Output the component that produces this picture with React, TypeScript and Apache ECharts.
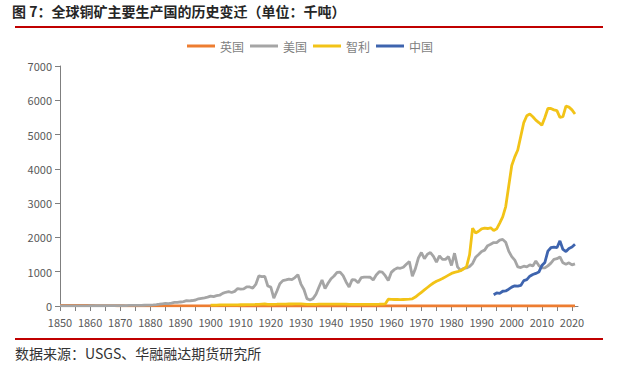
import React, { useEffect, useRef } from "react";
import * as echarts from "echarts";

const titleText = "图 7：全球铜矿主要生产国的历史变迁（单位：千吨）";
const sourceText = "数据来源：USGS、华融融达期货研究所";
const seriesNames = ["英国", "美国", "智利", "中国"];

const firstYear = 1850;
const lastYear = 2022;

const ukStart = 1850;
const ukValues = [
  15, 15, 16, 16, 15, 14, 14, 14, 14, 14,
  15, 14, 13, 13, 12, 12, 11, 10, 9, 8,
  7, 7, 6, 6, 5, 5, 5, 4, 4, 4,
  4, 3, 3, 3, 3, 3, 2, 2, 2, 1,
  1, 1, 1, 1, 1, 1, 1, 1, 1, 1,
  1, 1, 1, 1, 1, 1, 1, 1, 1, 1,
  0, 0, 0, 0, 0, 0, 0, 0, 0, 0,
  0, 0, 0, 0, 0, 0, 0, 0, 0, 0,
  0, 0, 0, 0, 0, 0, 0, 0, 0, 0,
  0, 0, 0, 0, 0, 0, 0, 0, 0, 0,
  0, 0, 0, 0, 0, 0, 0, 0, 0, 0,
  0, 0, 0, 0, 0, 0, 0, 0, 0, 0,
  0, 0, 0, 0, 0, 0, 0, 0, 0, 0,
  0, 0, 0, 0, 0, 0, 0, 0, 0, 0,
  0, 0, 0, 0, 0, 0, 0, 0, 0, 0,
  0, 0, 0, 0, 0, 0, 0, 0, 0, 0,
  0, 0, 0, 0, 0, 0, 0, 0, 0, 0,
  0, 0,
];

const usStart = 1850;
const usValues = [
  1, 1, 1, 2, 2, 3, 4, 5, 5, 6,
  7, 7, 9, 8, 8, 8, 9, 10, 12, 13,
  13, 13, 13, 16, 18, 18, 19, 21, 22, 23,
  27, 32, 41, 52, 65, 75, 72, 82, 103, 104,
  117, 128, 155, 150, 160, 175, 210, 225, 240, 260,
  290, 275, 300, 315, 370, 400, 417, 394, 427, 509,
  493, 497, 560, 555, 522, 628, 876, 854, 864, 583,
  550, 230, 430, 650, 740, 760, 786, 768, 830, 910,
  640, 480, 215, 175, 215, 345, 555, 760, 508, 663,
  797, 875, 982, 989, 885, 701, 552, 769, 759, 680,
  826, 842, 840, 838, 756, 906, 1000, 987, 885, 745,
  980, 1060, 1110, 1100, 1130, 1220, 1300, 866, 1090, 1400,
  1560, 1380, 1510, 1560, 1450, 1280, 1460, 1360, 1360, 1440,
  1180, 1540, 1140, 1040, 1100, 1110, 1150, 1240, 1420, 1500,
  1590, 1630, 1760, 1800, 1850, 1850, 1920, 1940, 1860, 1600,
  1440, 1340, 1140, 1120, 1160, 1140, 1200, 1170, 1310, 1180,
  1110, 1110, 1170, 1250, 1360, 1380, 1430, 1260, 1220, 1260,
  1200, 1230,
];

const chileStart = 1900;
const chileValues = [
  25, 28, 28, 30, 30, 30, 32, 33, 35, 35,
  36, 36, 38, 40, 42, 45, 50, 55, 58, 50,
  50, 50, 52, 55, 55, 55, 58, 58, 60, 60,
  60, 55, 45, 45, 50, 50, 55, 55, 55, 55,
  55, 55, 55, 55, 55, 55, 50, 50, 50, 50,
  50, 50, 50, 50, 50, 50, 52, 55, 60, 200,
  195, 190, 190, 185, 190, 195, 200, 210, 260, 330,
  400, 470, 540, 610, 670, 720, 760, 800, 850, 900,
  950, 980, 1000, 1030, 1080, 1150, 1500, 2270, 2130, 2180,
  2250, 2270, 2260, 2280, 2200, 2250, 2420, 2600, 2900, 3500,
  4100, 4350, 4550, 4950, 5350, 5550, 5600, 5520, 5420, 5350,
  5270, 5500, 5760, 5760, 5720, 5700, 5500, 5520, 5830, 5800,
  5720, 5600,
];

const chinaStart = 1994;
const chinaValues = [
  330, 380, 370, 430, 440, 490, 550, 590, 580, 600,
  740, 770, 870, 920, 950, 990, 1180, 1270, 1600, 1700,
  1720, 1700, 1900, 1650, 1590, 1680, 1720, 1800,
];

const colors = ["#ED7D31", "#A5A5A5", "#F2C317", "#3E64AE"];

const years: string[] = [];
for (let y = firstYear; y <= lastYear; y++) years.push(String(y));

function align(start: number, values: number[]) {
  return years.map((ys) => {
    const i = Number(ys) - start;
    return i >= 0 && i < values.length ? values[i] : null;
  });
}

export default function App() {
  const ref = useRef<HTMLDivElement>(null);
  useEffect(() => {
    if (!ref.current) return;
    const chart = echarts.init(ref.current, null, { renderer: "svg" });
    const font = "'Noto Sans CJK SC', 'Noto Sans', sans-serif";
    const allData = [
      align(ukStart, ukValues),
      align(usStart, usValues),
      align(chileStart, chileValues),
      align(chinaStart, chinaValues),
    ];
    chart.setOption({
      animation: false,
      backgroundColor: "#ffffff",
      textStyle: { fontFamily: font },
      color: colors,
      graphic: [
        {
          type: "text",
          left: 12,
          top: 4,
          style: { text: titleText, fontSize: 14, fontWeight: "bold", fill: "#262626", fontFamily: font },
        },
        {
          type: "rect",
          shape: { x: 15, y: 26, width: 588, height: 2 },
          style: { fill: "#C00000" },
        },
        {
          type: "rect",
          shape: { x: 15, y: 338, width: 588, height: 2 },
          style: { fill: "#C00000" },
        },
        {
          type: "text",
          left: 15,
          top: 346,
          style: { text: sourceText, fontSize: 14, fill: "#333333", fontFamily: font },
        },
      ],
      legend: {
        top: 35,
        left: "center",
        icon: "rect",
        itemWidth: 28,
        itemHeight: 3,
        itemGap: 6,
        textStyle: { color: "#7F7F7F", fontSize: 12, fontFamily: font },
        data: seriesNames,
      },
      grid: { left: 60, right: 42, top: 66, bottom: 63, containLabel: false },
      xAxis: {
        type: "category",
        data: years,
        boundaryGap: false,
        axisLine: { lineStyle: { color: "#7F7F7F", width: 1 } },
        axisTick: {
          interval: (index: number) => index % 5 === 0,
          length: 5,
          lineStyle: { color: "#7F7F7F" },
        },
        axisLabel: {
          interval: (index: number) => index % 10 === 0,
          color: "#595959",
          fontSize: 11,
          margin: 10,
        },
        splitLine: { show: false },
      },
      yAxis: {
        type: "value",
        min: 0,
        max: 7000,
        interval: 1000,
        axisLine: { show: true, lineStyle: { color: "#7F7F7F", width: 1 } },
        axisTick: { show: true, length: 5, lineStyle: { color: "#7F7F7F" } },
        axisLabel: {
          color: "#595959",
          fontSize: 11,
          margin: 8,
          formatter: (v: number) => String(v),
        },
        splitLine: { show: false },
      },
      series: seriesNames.map((name, i) => ({
        name,
        type: "line",
        data: allData[i],
        symbol: "none",
        connectNulls: false,
        lineStyle: { width: 2.8, color: colors[i] },
        itemStyle: { color: colors[i] },
      })),
    });
    return () => chart.dispose();
  }, []);
  return (
    <div
      ref={ref}
      style={{ position: "absolute", left: 0, top: 0, width: 620, height: 369 }}
    />
  );
}
